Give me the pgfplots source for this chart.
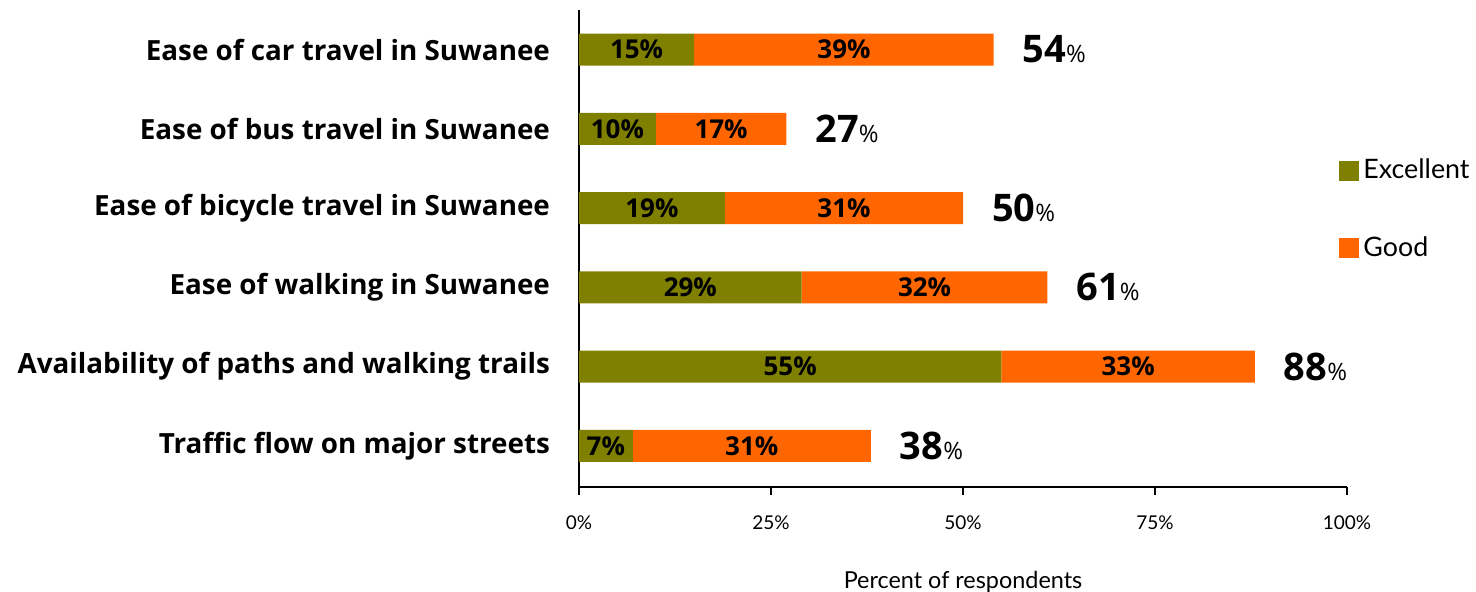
\documentclass[border=0pt]{standalone}
\usepackage{pgfplots}
\pgfplotsset{compat=1.18}
\usepackage{pgfplotstable}
\usepackage{fontspec}
\setmainfont{Lato}
\newfontfamily\bfont{Open Sans}
\definecolor{exc}{HTML}{808000}
\definecolor{good}{HTML}{FF6600}
\pgfplotstableread{
idx exc good total
0 7 31 38
1 55 33 88
2 29 32 61
3 19 31 50
4 10 17 27
5 15 39 54
}\data
\pgfplotsset{common/.style={
  scale only axis,
  width=384pt, height=238.5pt,
  xmin=0, xmax=100,
  ymin=-0.52, ymax=5.5,
  clip=false}}
\begin{document}
\begin{tikzpicture}
\path[use as bounding box] (-289.5pt,-52.5pt) rectangle (448.5pt,243.5pt);
\begin{axis}[
  common,
  xbar stacked,
  bar width=16pt,
  axis x line*=bottom, axis y line*=left,
  axis line style={black, line width=0.9pt},
  xtick={0,25,50,75,100},
  xticklabels={0\%,25\%,50\%,75\%,100\%},
  xtick align=outside,
  xtick style={black, line width=0.9pt},
  major tick length=4pt,
  xticklabel style={font=\fontsize{9.5}{11}\selectfont, yshift=-7pt},
  ytick={0,1,2,3,4,5},
  yticklabels={Traffic flow on major streets, Availability of paths and walking trails, Ease of walking in Suwanee, Ease of bicycle travel in Suwanee, Ease of bus travel in Suwanee, Ease of car travel in Suwanee},
  ytick style={draw=none},
  yticklabel style={font=\bfont\bfseries\fontsize{13.9}{15}\selectfont, xshift=-11pt},
  xlabel={Percent of respondents},
  xlabel style={font=\fontsize{11.7}{13}\selectfont, yshift=-14pt},
  legend style={at={(0.9896,0.582)}, anchor=west, draw=none, fill=none, inner sep=0pt,
    row sep=23.5pt, font=\fontsize{13.4}{15}\selectfont, cells={anchor=west, xshift=1pt}},
]
\addplot[fill=exc, draw=none,
  legend image code/.code={\fill[exc] (0pt,-5pt) rectangle (10pt,5pt);},
  point meta=explicit,
  nodes near coords={\pgfmathprintnumber[assume math mode=true]{\pgfplotspointmeta}\%},
  nodes near coords style={anchor=center, font=\bfont\bfseries\fontsize{13}{15}\selectfont}]
  table[x=exc, y=idx, meta=exc]{\data};
\addplot[fill=good, draw=none,
  legend image code/.code={\fill[good] (0pt,-5pt) rectangle (10pt,5pt);},
  point meta=explicit,
  nodes near coords={\pgfmathprintnumber[assume math mode=true]{\pgfplotspointmeta}\%},
  nodes near coords style={anchor=center, font=\bfont\bfseries\fontsize{13}{15}\selectfont}]
  table[x=good, y=idx, meta=good]{\data};
\legend{Excellent, Good}
\end{axis}
\begin{axis}[common, hide axis]
\addplot[only marks, mark=none, point meta=explicit,
  nodes near coords={{\bfseries\fontsize{19}{21}\selectfont\pgfmathprintnumber[assume math mode=true]{\pgfplotspointmeta}}{\mdseries\fontsize{12}{14}\selectfont\%}},
  nodes near coords style={anchor=west, xshift=11pt, font=\bfont}]
  table[x=total, y=idx, meta=total]{\data};
\end{axis}
\end{tikzpicture}
\end{document}
